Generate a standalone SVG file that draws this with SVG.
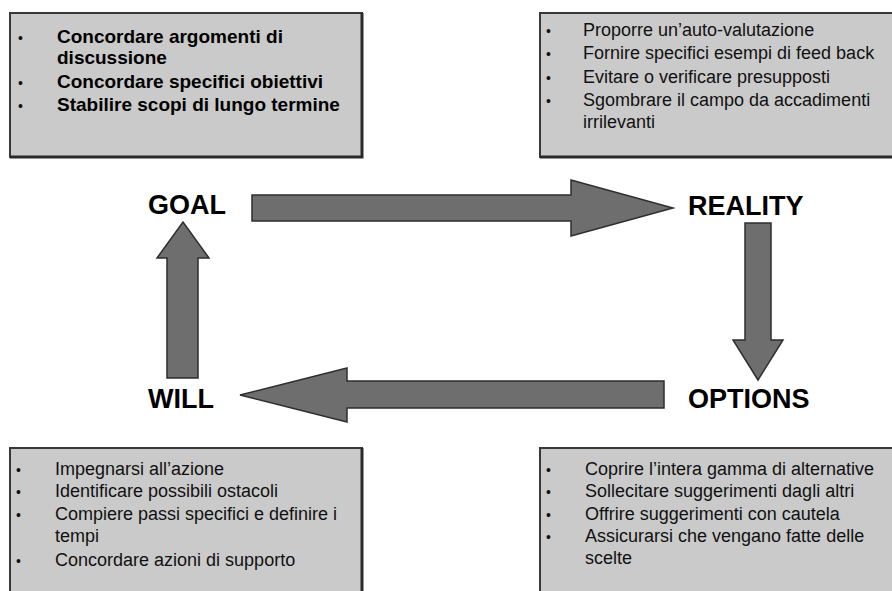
<svg xmlns="http://www.w3.org/2000/svg" width="892" height="591" viewBox="0 0 892 591">
<style>
.box{fill:#cacaca;stroke:#383838;stroke-width:2}
.shadow{stroke:#2a2a2a;stroke-width:3;fill:none}
.arrow{fill:#6e6e6e;stroke:#2e2e2e;stroke-width:1.5;stroke-linejoin:miter}
.lbl{font-family:"Liberation Sans",Arial,sans-serif;font-weight:bold;font-size:27px;fill:#000}
.bt{font-family:"Liberation Sans",Arial,sans-serif;font-weight:bold;font-size:19px;fill:#000}
.rt{font-family:"Liberation Sans",Arial,sans-serif;font-size:18px;fill:#111}
.bul{font-family:"Liberation Sans",Arial,sans-serif;font-size:14px;fill:#111}
</style>
<rect width="892" height="591" fill="#fff"/>
<g id="goal-box">
<rect class="box" x="10" y="13" width="352" height="144"/>
<path class="shadow" d="M362 13 V157 H10"/>
<text class="bul" x="18" y="43">•</text>
<text class="bul" x="18" y="88">•</text>
<text class="bul" x="18" y="111">•</text>
<text class="bt" x="57" y="43">Concordare argomenti di</text>
<text class="bt" x="57" y="64">discussione</text>
<text class="bt" x="57" y="88">Concordare specifici obiettivi</text>
<text class="bt" x="57" y="111">Stabilire scopi di lungo termine</text>
</g>
<g id="reality-box">
<rect class="box" x="540" y="13" width="360" height="144"/>
<path class="shadow" d="M540 157 H892"/>
<text class="bul" x="546" y="36">•</text>
<text class="bul" x="546" y="59">•</text>
<text class="bul" x="546" y="83">•</text>
<text class="bul" x="546" y="106">•</text>
<text class="rt" x="583" y="36">Proporre un’auto-valutazione</text>
<text class="rt" x="583" y="59">Fornire specifici esempi di feed back</text>
<text class="rt" x="583" y="83">Evitare o verificare presupposti</text>
<text class="rt" x="583" y="106">Sgombrare il campo da accadimenti</text>
<text class="rt" x="583" y="128">irrilevanti</text>
</g>
<g id="will-box">
<rect class="box" x="10" y="448" width="352" height="160"/>
<path class="shadow" d="M362 448 V591"/>
<text class="bul" x="16" y="475">•</text>
<text class="bul" x="16" y="497">•</text>
<text class="bul" x="16" y="520">•</text>
<text class="bul" x="16" y="566">•</text>
<text class="rt" x="55" y="475">Impegnarsi all’azione</text>
<text class="rt" x="55" y="497">Identificare possibili ostacoli</text>
<text class="rt" x="55" y="520">Compiere passi specifici e definire i</text>
<text class="rt" x="55" y="542">tempi</text>
<text class="rt" x="55" y="566">Concordare azioni di supporto</text>
</g>
<g id="options-box">
<rect class="box" x="540" y="448" width="360" height="160"/>
<text class="bul" x="546" y="475">•</text>
<text class="bul" x="546" y="497">•</text>
<text class="bul" x="546" y="520">•</text>
<text class="bul" x="546" y="542">•</text>
<text class="rt" x="585" y="475">Coprire l’intera gamma di alternative</text>
<text class="rt" x="585" y="497">Sollecitare suggerimenti dagli altri</text>
<text class="rt" x="585" y="520">Offrire suggerimenti con cautela</text>
<text class="rt" x="585" y="542">Assicurarsi che vengano fatte delle</text>
<text class="rt" x="585" y="564">scelte</text>
</g>
<g id="goal"><text class="lbl" x="148" y="214">GOAL</text></g>
<g id="reality"><text class="lbl" x="688" y="215">REALITY</text></g>
<g id="options"><text class="lbl" x="688" y="408">OPTIONS</text></g>
<g id="will"><text class="lbl" x="148" y="408">WILL</text></g>
<g id="connectors">
<path class="arrow" d="M252 195 H571 V180 L673 208 L571 236 V221 H252 Z"/>
<path class="arrow" d="M745 223 H771 V340 H783 L758 380 L733 340 H745 Z"/>
<path class="arrow" d="M664 381 H347 V368 L240 395 L347 422 V408 H664 Z"/>
<path class="arrow" d="M167 378 V258 H157 L183 222 L209 258 H198 V378 Z"/>
</g>
</svg>
